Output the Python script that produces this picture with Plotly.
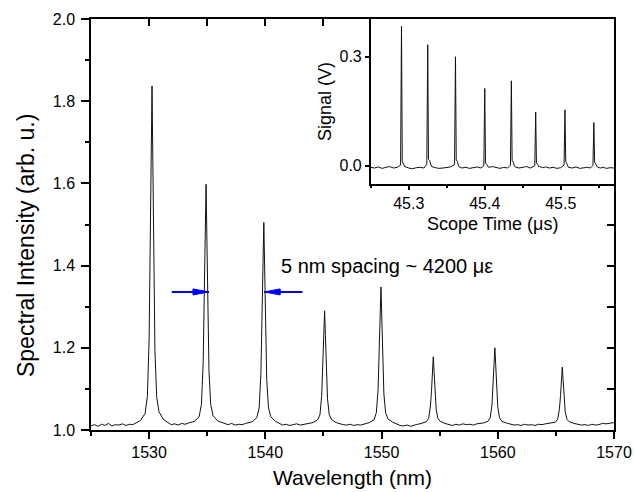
import plotly.graph_objects as go

# ---------------- data ----------------
# Main spectrum: baseline samples (wavelength nm, intensity)
baseline_pts = [
    (1525.0, 1.010), (1525.3, 1.013), (1525.6, 1.009), (1525.9, 1.014), (1526.2, 1.011),
    (1526.5, 1.016), (1526.8, 1.010), (1527.1, 1.013), (1527.4, 1.012), (1527.7, 1.015),
    (1528.0, 1.011), (1528.3, 1.014), (1528.6, 1.013), (1528.9, 1.017),
    (1531.6, 1.018), (1531.9, 1.013), (1532.2, 1.015), (1532.5, 1.012), (1532.8, 1.016),
    (1533.1, 1.014), (1533.4, 1.017), (1533.65, 1.019),
    (1536.2, 1.019), (1536.5, 1.015), (1536.8, 1.013), (1537.1, 1.016), (1537.4, 1.012),
    (1537.7, 1.014), (1538.0, 1.013), (1538.3, 1.016), (1538.6, 1.018),
    (1541.2, 1.016), (1541.5, 1.012), (1541.8, 1.014), (1542.1, 1.011), (1542.4, 1.013),
    (1542.7, 1.015), (1543.0, 1.012), (1543.3, 1.014), (1543.6, 1.016), (1543.85, 1.017),
    (1546.4, 1.015), (1546.7, 1.013), (1547.0, 1.012), (1547.3, 1.014), (1547.6, 1.011),
    (1547.9, 1.013), (1548.2, 1.012), (1548.5, 1.015), (1548.75, 1.017),
    (1551.3, 1.015), (1551.6, 1.011), (1551.9, 1.010), (1552.2, 1.012), (1552.5, 1.009),
    (1552.8, 1.012), (1553.1, 1.014), (1553.3, 1.015),
    (1555.8, 1.013), (1556.1, 1.011), (1556.4, 1.014), (1556.7, 1.012), (1557.0, 1.015),
    (1557.3, 1.013), (1557.6, 1.014), (1557.9, 1.012), (1558.2, 1.015), (1558.5, 1.016),
    (1561.1, 1.015), (1561.4, 1.012), (1561.7, 1.013), (1562.0, 1.011), (1562.3, 1.014),
    (1562.6, 1.012), (1562.9, 1.013), (1563.2, 1.011), (1563.5, 1.014), (1563.8, 1.013),
    (1564.1, 1.015), (1564.35, 1.016),
    (1566.9, 1.014), (1567.2, 1.012), (1567.5, 1.013), (1567.8, 1.011), (1568.1, 1.014),
    (1568.4, 1.012), (1568.7, 1.013), (1569.0, 1.016), (1569.3, 1.015), (1569.6, 1.017),
    (1570.0, 1.018),
]

# Main spectrum: samples across the eight reflection peaks
peak_pts = [
    (1529.25, 1.023), (1529.65, 1.040), (1529.85, 1.081), (1530.00, 1.221), (1530.10, 1.426),
    (1530.18, 1.673), (1530.25, 1.837), (1530.32, 1.656), (1530.40, 1.410), (1530.50, 1.196),
    (1530.65, 1.081), (1530.85, 1.044), (1531.25, 1.025),
    (1533.90, 1.021), (1534.30, 1.032), (1534.50, 1.062), (1534.65, 1.161), (1534.75, 1.307),
    (1534.83, 1.481), (1534.90, 1.598), (1534.97, 1.470), (1535.05, 1.295), (1535.15, 1.143),
    (1535.30, 1.062), (1535.50, 1.035), (1535.90, 1.022),
    (1538.87, 1.020), (1539.27, 1.030), (1539.47, 1.054), (1539.62, 1.138), (1539.72, 1.260),
    (1539.80, 1.407), (1539.87, 1.505), (1539.94, 1.397), (1540.02, 1.250), (1540.12, 1.123),
    (1540.27, 1.054), (1540.47, 1.032), (1540.87, 1.021),
    (1544.10, 1.018), (1544.50, 1.025), (1544.70, 1.037), (1544.85, 1.084), (1544.95, 1.153),
    (1545.03, 1.235), (1545.10, 1.290), (1545.17, 1.230), (1545.25, 1.147), (1545.35, 1.076),
    (1545.50, 1.037), (1545.70, 1.025), (1546.10, 1.018),
    (1548.95, 1.018), (1549.35, 1.025), (1549.55, 1.042), (1549.70, 1.098), (1549.80, 1.182),
    (1549.88, 1.281), (1549.95, 1.348), (1550.02, 1.275), (1550.10, 1.175), (1550.20, 1.088),
    (1550.35, 1.042), (1550.55, 1.027), (1550.95, 1.019),
    (1553.45, 1.016), (1553.85, 1.020), (1554.05, 1.028), (1554.20, 1.056), (1554.30, 1.096),
    (1554.38, 1.145), (1554.45, 1.178), (1554.52, 1.142), (1554.60, 1.093), (1554.70, 1.051),
    (1554.85, 1.028), (1555.05, 1.021), (1555.45, 1.016),
    (1558.75, 1.017), (1559.15, 1.021), (1559.35, 1.030), (1559.50, 1.061), (1559.60, 1.107),
    (1559.68, 1.163), (1559.75, 1.200), (1559.82, 1.159), (1559.90, 1.104), (1560.00, 1.056),
    (1560.15, 1.030), (1560.35, 1.021), (1560.75, 1.017),
    (1564.55, 1.016), (1564.95, 1.019), (1565.15, 1.026), (1565.30, 1.050), (1565.40, 1.084),
    (1565.48, 1.125), (1565.55, 1.153), (1565.62, 1.123), (1565.70, 1.081), (1565.80, 1.045),
    (1565.95, 1.026), (1566.15, 1.020), (1566.55, 1.016),
]

# Inset: oscilloscope trace, baseline samples (time us, signal V)
scope_base_pts = [
    (45.250, -0.004), (45.255, -0.006), (45.260, -0.003), (45.265, -0.007), (45.270, -0.004),
    (45.275, -0.002), (45.280, -0.006), (45.285, -0.004),
    (45.295, -0.003), (45.300, -0.006), (45.305, -0.008), (45.310, -0.005), (45.315, -0.004),
    (45.320, -0.006),
    (45.330, -0.002), (45.335, -0.005), (45.340, -0.007), (45.345, -0.006), (45.350, -0.004),
    (45.355, -0.003),
    (45.366, -0.002), (45.370, -0.006), (45.375, -0.004), (45.380, -0.007), (45.385, -0.005),
    (45.390, -0.003), (45.395, -0.006),
    (45.405, -0.004), (45.410, -0.002), (45.415, -0.005), (45.420, -0.007), (45.425, -0.004),
    (45.430, -0.006),
    (45.440, -0.003), (45.445, -0.006), (45.450, -0.004), (45.455, -0.002), (45.460, -0.006),
    (45.472, -0.002), (45.476, -0.005), (45.480, -0.003), (45.485, -0.006), (45.490, -0.004),
    (45.495, -0.007), (45.500, -0.005),
    (45.510, -0.004), (45.515, -0.006), (45.520, -0.003), (45.525, -0.007), (45.530, -0.005),
    (45.535, -0.004), (45.539, -0.006),
    (45.548, -0.003), (45.552, -0.006), (45.556, -0.004), (45.560, -0.007), (45.565, -0.005),
    (45.570, -0.006),
]

# Inset: the eight pulses
scope_pulse_pts = [
    (45.2893, 0.002), (45.2905, 0.384), (45.2915, 0.012), (45.2930, 0.006), (45.2950, -0.002),
    (45.3238, 0.004), (45.3250, 0.333), (45.3260, 0.018), (45.3275, 0.015), (45.3290, 0.003),
    (45.3603, 0.003), (45.3615, 0.300), (45.3625, 0.016), (45.3640, 0.012), (45.3655, 0.000),
    (45.3988, 0.000), (45.4000, 0.213), (45.4010, 0.008), (45.4025, 0.004), (45.4040, -0.003),
    (45.4338, 0.002), (45.4350, 0.234), (45.4360, 0.014), (45.4375, 0.010), (45.4390, -0.001),
    (45.4658, 0.000), (45.4670, 0.148), (45.4680, 0.008), (45.4695, 0.004), (45.4710, -0.003),
    (45.5043, 0.002), (45.5055, 0.154), (45.5065, 0.012), (45.5080, 0.006), (45.5095, -0.002),
    (45.5423, 0.001), (45.5435, 0.119), (45.5445, 0.010), (45.5460, 0.005), (45.5475, -0.003),
]

main_xticks = [1530, 1540, 1550, 1560, 1570]
main_yticks = [1.0, 1.2, 1.4, 1.6, 1.8, 2.0]
main_yticklabels = ["1.0", "1.2", "1.4", "1.6", "1.8", "2.0"]
inset_xticks = [45.3, 45.4, 45.5]
inset_yticks = [0.0, 0.3]
inset_yticklabels = ["0.0", "0.3"]

x_title = "Wavelength (nm)"
y_title = "Spectral Intensity (arb. u.)"
inset_x_title = "Scope Time (\u03bcs)"
inset_y_title = "Signal (V)"
annotation_text = "5 nm spacing ~ 4200 \u03bc\u03b5"
# arrows (tail, head) in data units
arrow_left = ((1531.95, 1.336), (1535.15, 1.336))
arrow_right = ((1543.2, 1.336), (1539.9, 1.336))

# ---------------- build figure ----------------
spec = sorted(baseline_pts + peak_pts)
wl = [p[0] for p in spec]
inten = [p[1] for p in spec]
scope = sorted(scope_base_pts + scope_pulse_pts)
t_us = [p[0] for p in scope]
sig = [p[1] for p in scope]

FONT = "Liberation Sans, Arial, sans-serif"
LW = 1.5

fig = go.Figure()
fig.add_trace(go.Scatter(x=wl, y=inten, mode="lines",
                         line=dict(color="#111111", width=1), xaxis="x", yaxis="y",
                         showlegend=False, hoverinfo="skip"))
# invisible trace for mirrored top/right axes
fig.add_trace(go.Scatter(x=[1525], y=[1.0], mode="markers", marker=dict(opacity=0),
                         xaxis="x2", yaxis="y2", showlegend=False, hoverinfo="skip"))
fig.add_trace(go.Scatter(x=t_us, y=sig, mode="lines",
                         line=dict(color="#111111", width=1), xaxis="x3", yaxis="y3",
                         showlegend=False, hoverinfo="skip"))

common = dict(showgrid=False, zeroline=False, showline=True, linecolor="black",
              linewidth=LW, tickcolor="black", tickwidth=LW, automargin=False)

fig.update_layout(
    width=634, height=492,
    margin=dict(l=91, r=20, t=19, b=62, autoexpand=False),
    paper_bgcolor="white", plot_bgcolor="white",
    font=dict(family=FONT, color="black"),
    xaxis=dict(**common, domain=[0, 1], range=[1525, 1570], anchor="y",
               tickmode="array", tickvals=main_xticks, ticks="outside", ticklen=7,
               minor=dict(dtick=5, tick0=1525, ticks="outside", ticklen=4,
                          tickcolor="black", tickwidth=LW),
               tickfont=dict(size=16, family=FONT)),
    yaxis=dict(**common, domain=[0, 1], range=[1.0, 2.0], anchor="x",
               tickmode="array", tickvals=main_yticks, ticktext=main_yticklabels,
               ticks="outside", ticklen=8, ticklabelstandoff=3,
               minor=dict(dtick=0.1, tick0=1.0, ticks="outside", ticklen=4,
                          tickcolor="black", tickwidth=LW),
               tickfont=dict(size=16, family=FONT)),
    xaxis2=dict(**common, overlaying="x", side="top", anchor="y", range=[1525, 1570],
                tickmode="linear", tick0=1525, dtick=5, ticks="inside", ticklen=7,
                showticklabels=False),
    yaxis2=dict(**common, overlaying="y", side="right", anchor="x", range=[1.0, 2.0],
                tickmode="linear", tick0=1.0, dtick=0.1, ticks="inside", ticklen=7,
                showticklabels=False),
    xaxis3=dict(**common, domain=[0.5348, 1.0], anchor="y3", range=[45.25, 45.57],
                tickmode="array", tickvals=inset_xticks, ticks="outside", ticklen=4,
                minor=dict(dtick=0.05, tick0=45.25, ticks="outside", ticklen=2,
                           tickcolor="black", tickwidth=LW),
                tickfont=dict(size=16, family=FONT)),
    yaxis3=dict(**common, domain=[0.5985, 1.0], anchor="x3", range=[-0.05, 0.404],
                tickmode="array", tickvals=inset_yticks, ticktext=inset_yticklabels,
                ticks="outside", ticklen=4,
                tickfont=dict(size=16, family=FONT)),
)

# axis titles as paper-positioned annotations
fig.add_annotation(x=0.5, y=-0.1144, xref="paper", yref="paper", text=x_title,
                   showarrow=False, xanchor="center", yanchor="middle",
                   font=dict(size=21, family=FONT, color="black"))
fig.add_annotation(x=-0.1243, y=0.450, xref="paper", yref="paper", text=y_title,
                   showarrow=False, xanchor="center", yanchor="middle", textangle=-90,
                   font=dict(size=23, family=FONT, color="black"))
fig.add_annotation(x=0.7677, y=0.5012, xref="paper", yref="paper", text=inset_x_title,
                   showarrow=False, xanchor="center", yanchor="middle",
                   font=dict(size=18, family=FONT, color="black"))
fig.add_annotation(x=0.4474, y=0.8005, xref="paper", yref="paper", text=inset_y_title,
                   showarrow=False, xanchor="center", yanchor="middle", textangle=-90,
                   font=dict(size=18, family=FONT, color="black"))

fig.add_annotation(x=1541.16, y=1.40, xref="x", yref="y", text=annotation_text,
                   showarrow=False, xanchor="left", yanchor="middle",
                   font=dict(size=20, family=FONT, color="black"))

BLUE = "#0000ff"
for (tail, head) in (arrow_left, arrow_right):
    fig.add_shape(type="line", xref="x", yref="y", x0=tail[0], y0=tail[1],
                  x1=head[0], y1=head[1], line=dict(color=BLUE, width=2))
    direction = 1 if head[0] > tail[0] else -1
    fig.add_shape(type="path", xref="x", yref="y", xsizemode="pixel", ysizemode="pixel",
                  xanchor=head[0], yanchor=head[1],
                  path=f"M {-16*direction},-3 L 0,0 L {-16*direction},3 Z",
                  fillcolor=BLUE, line=dict(color=BLUE, width=1))

fig.write_html("out.html")
